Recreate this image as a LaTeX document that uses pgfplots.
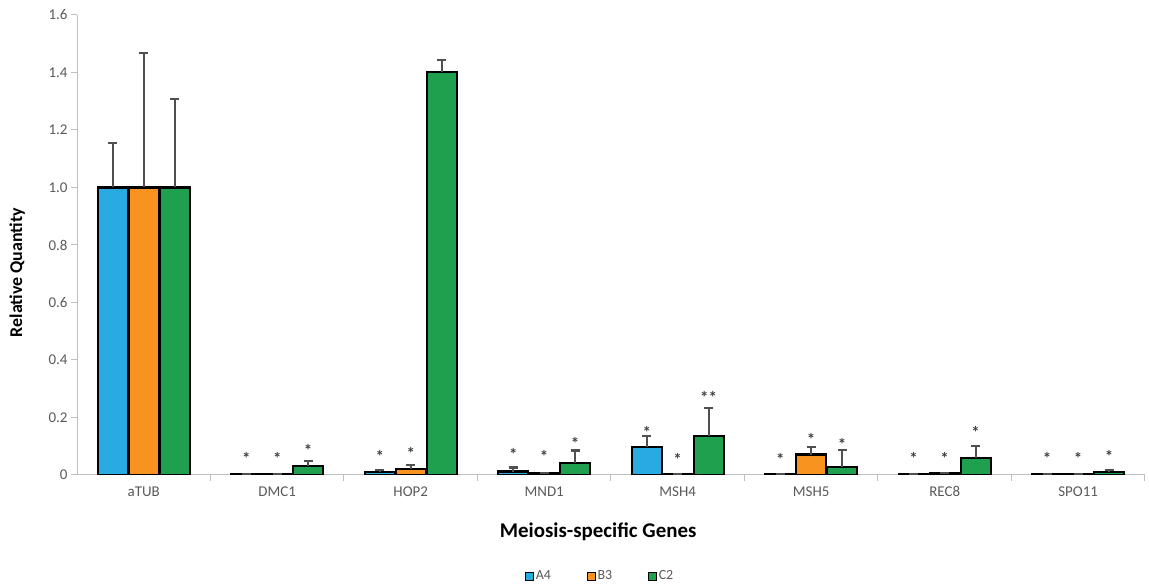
\documentclass[border=0pt]{standalone}
\usepackage{pgfplots}
\pgfplotsset{compat=1.18}
\usepackage{fontspec}
\setmainfont{Carlito}
\definecolor{cA}{HTML}{29ABE2}
\definecolor{cB}{HTML}{F7931E}
\definecolor{cC}{HTML}{1FA04F}
\definecolor{tickc}{HTML}{595959}
\definecolor{axc}{HTML}{BFBFBF}
\definecolor{errc}{HTML}{505050}
\pgfplotstableread{
x y e
0 1.000 0.155
1 0.003 0.000
2 0.010 0.008
3 0.012 0.014
4 0.097 0.040
5 0.003 0.000
6 0.003 0.000
7 0.003 0.000
}\dataA
\pgfplotstableread{
x y e
0 1.000 0.468
1 0.003 0.000
2 0.022 0.013
3 0.008 0.000
4 0.003 0.000
5 0.071 0.027
6 0.005 0.002
7 0.003 0.000
}\dataB
\pgfplotstableread{
x y e
0 1.000 0.308
1 0.031 0.019
2 1.402 0.041
3 0.043 0.042
4 0.137 0.096
5 0.028 0.059
6 0.059 0.041
7 0.010 0.008
}\dataC
\pgfplotstableread{
x y s
0.768 0.070 *
1.768 0.078 *
2.768 0.085 *
3.768 0.162 *
4.768 0.069 *
5.768 0.070 *
6.768 0.070 *
1 0.070 *
2 0.090 *
3 0.078 *
4 0.069 *
5 0.136 *
6 0.070 *
7 0.070 *
1.232 0.098 *
3.232 0.125 *
4.232 0.284 **
5.232 0.121 *
6.232 0.162 *
7.232 0.078 *
}\stars
\begin{document}
\begin{tikzpicture}[x=1bp,y=1bp]
\path[use as bounding box] (0,0) rectangle (1149,586);
\begin{axis}[
  at={(77bp,111bp)}, anchor=south west,
  scale only axis, width=1068bp, height=460bp,
  xmin=-0.5, xmax=7.5, ymin=0, ymax=1.6,
  ybar=1bp, bar width=30bp,
  axis x line*=bottom, axis y line*=left,
  axis line style={draw=axc, line width=1bp},
  xtick={0,1,2,3,4,5,6,7},
  xticklabels={aTUB,DMC1,HOP2,MND1,MSH4,MSH5,REC8,SPO11},
  x tick style={draw=none},
  extra x ticks={0.5,1.5,2.5,3.5,4.5,5.5,6.5,7.5},
  extra x tick labels={},
  extra x tick style={x tick style={draw=axc, line width=1bp}, major tick length=6bp, tick align=outside},
  ytick={0,0.2,0.4,0.6,0.8,1.0,1.2,1.4,1.6},
  yticklabels={0,0.2,0.4,0.6,0.8,1.0,1.2,1.4,1.6},
  y tick style={draw=axc, line width=1bp},
  major tick length=6bp, tick align=outside,
  ticklabel style={font=\fontsize{15}{17}\selectfont, text=tickc},
  xticklabel style={yshift=-2bp},
  ylabel={\textbf{Relative Quantity}},
  ylabel style={font=\fontsize{18}{20}\selectfont, at={(axis description cs:-0.056,0.44)}, anchor=center},
  xlabel={\textbf{Meiosis-specific Genes}},
  xlabel style={font=\fontsize{21}{23}\selectfont, at={(axis description cs:0.488,-0.124)}, anchor=center},
  legend style={at={(axis description cs:0.49,-0.22)}, anchor=center, draw=none, font=\fontsize{14}{16}\selectfont, text=tickc, legend columns=3, /tikz/every even column/.append style={column sep=34bp}},
  legend image code/.code={\draw[#1, line width=0.6bp] (0bp,-4bp) rectangle (8bp,4bp);},
  error bars/y dir=plus, error bars/y explicit,
  error bars/error bar style={draw=errc, line width=1.8bp},
  error bars/error mark options={rotate=90, draw=errc, line width=2.2bp, mark size=4.5bp},
]
\addplot[fill=cA, draw=black, line width=2.2bp] table[x=x, y=y, y error=e] {\dataA};
\addlegendentry{A4}
\addplot[fill=cB, draw=black, line width=2.2bp] table[x=x, y=y, y error=e] {\dataB};
\addlegendentry{B3}
\addplot[fill=cC, draw=black, line width=2.2bp] table[x=x, y=y, y error=e] {\dataC};
\addlegendentry{C2}
\end{axis}
\begin{axis}[
  at={(77bp,111bp)}, anchor=south west,
  scale only axis, width=1068bp, height=460bp,
  xmin=-0.5, xmax=7.5, ymin=0, ymax=1.6,
  hide axis,
]
\addplot[only marks, mark=none, nodes near coords, point meta=explicit symbolic,
  nodes near coords style={anchor=center, yshift=-4bp, font=\bfseries\fontsize{17}{19}\selectfont, text=black!75, inner sep=0pt}]
  table[x=x, y=y, meta=s] {\stars};
\end{axis}
\end{tikzpicture}
\end{document}
